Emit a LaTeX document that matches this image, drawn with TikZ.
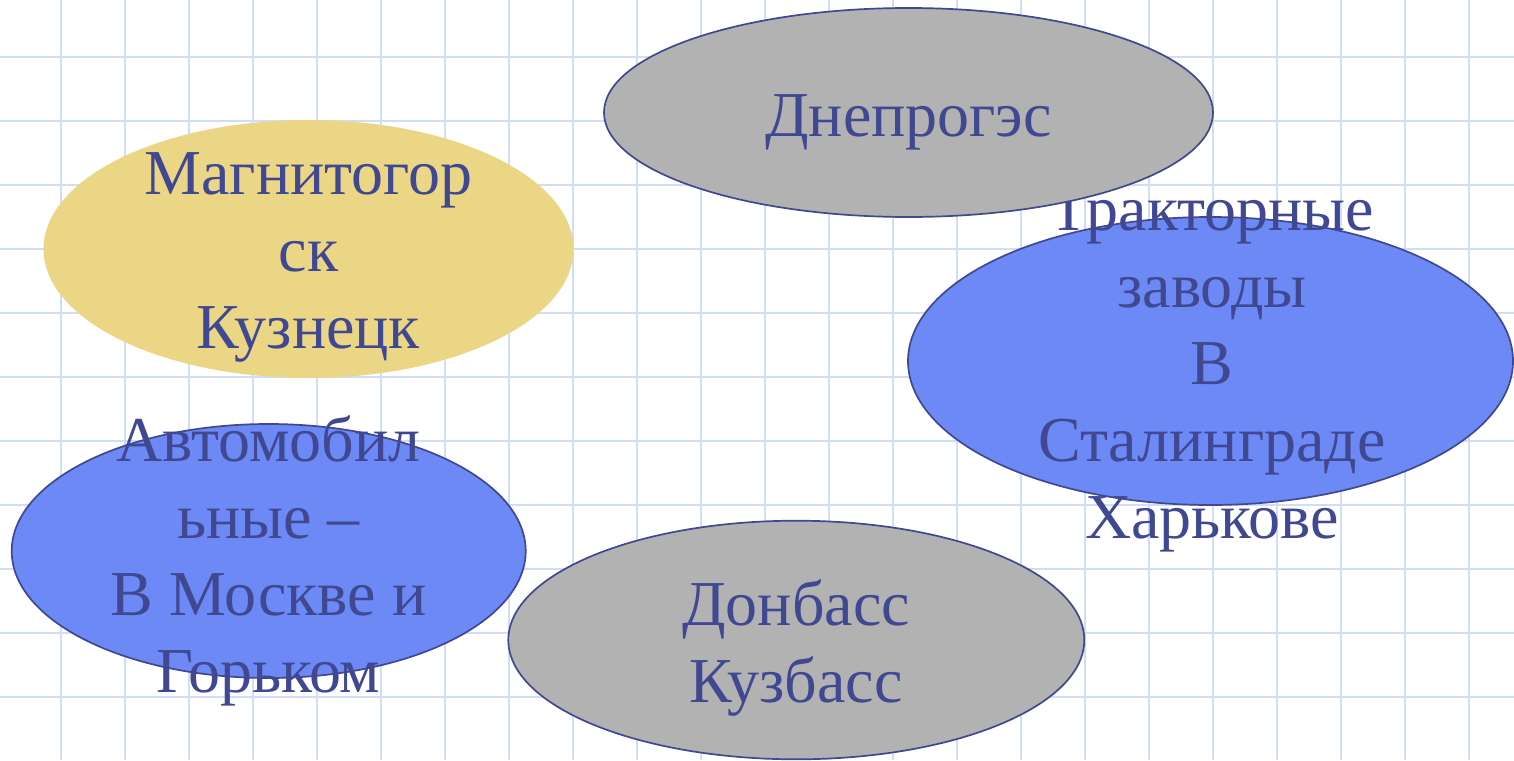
\documentclass[tikz,border=0pt]{standalone}
\usepackage{fontspec}
\setmainfont{Liberation Serif}
\usetikzlibrary{shapes.geometric}
\definecolor{gridblue}{RGB}{208,220,248}
\definecolor{inkblue}{RGB}{64,72,145}
\definecolor{ovalgray}{RGB}{178,178,178}
\definecolor{ovalblue}{RGB}{108,137,245}
\definecolor{ovalyellow}{RGB}{235,214,134}
\begin{document}
\begin{tikzpicture}[x=0.5pt,y=-0.5pt,
  oval/.style={ellipse,inner sep=0pt,draw=inkblue,line width=0.85pt},
  txt/.style={text=inkblue,align=center,font=\fontsize{32}{38.5}\selectfont}]
  \useasboundingbox[fill=white] (0,0) rectangle (1514,760);

  % squared paper
  \foreach \gx in {61,125,...,1469}
    \draw[gridblue,line width=1.1pt] (\gx,0) -- (\gx,760);
  \foreach \gy in {57,121,...,697}
    \draw[gridblue,line width=1.1pt] (0,\gy) -- (1514,\gy);

  \node[oval,draw=none,fill=ovalyellow,minimum width=265pt,minimum height=129pt] (magn) at (308.5,249) {};
  \node[txt] (magnt) at (308.5,257.3) {Магнитогор\\ск\\Кузнецк};

  \node[oval,fill=ovalblue,minimum width=302.5pt,minimum height=144pt] (trak) at (1210.5,361) {};
  \node[txt] (trakt) at (1212,370.8) {Тракторные\\заводы\\В\\Сталинграде\\Харькове};

  \node[oval,fill=ovalgray,minimum width=304.5pt,minimum height=104.5pt] (dnep) at (908.5,112.5) {};
  \node[txt] (dnept) at (908.5,122.8) {Днепрогэс};

  \node[oval,fill=ovalblue,minimum width=257pt,minimum height=127pt] (avto) at (268.7,551) {};
  \node[txt] (avtot) at (268.6,560.8) {Автомобил\\ьные –\\В Москве и\\Горьком};

  \node[oval,fill=ovalgray,minimum width=288pt,minimum height=119.3pt] (donb) at (796.3,640) {};
  \node[txt] (donbt) at (796,648) {Донбасс\\Кузбасс};

\end{tikzpicture}
\end{document}
